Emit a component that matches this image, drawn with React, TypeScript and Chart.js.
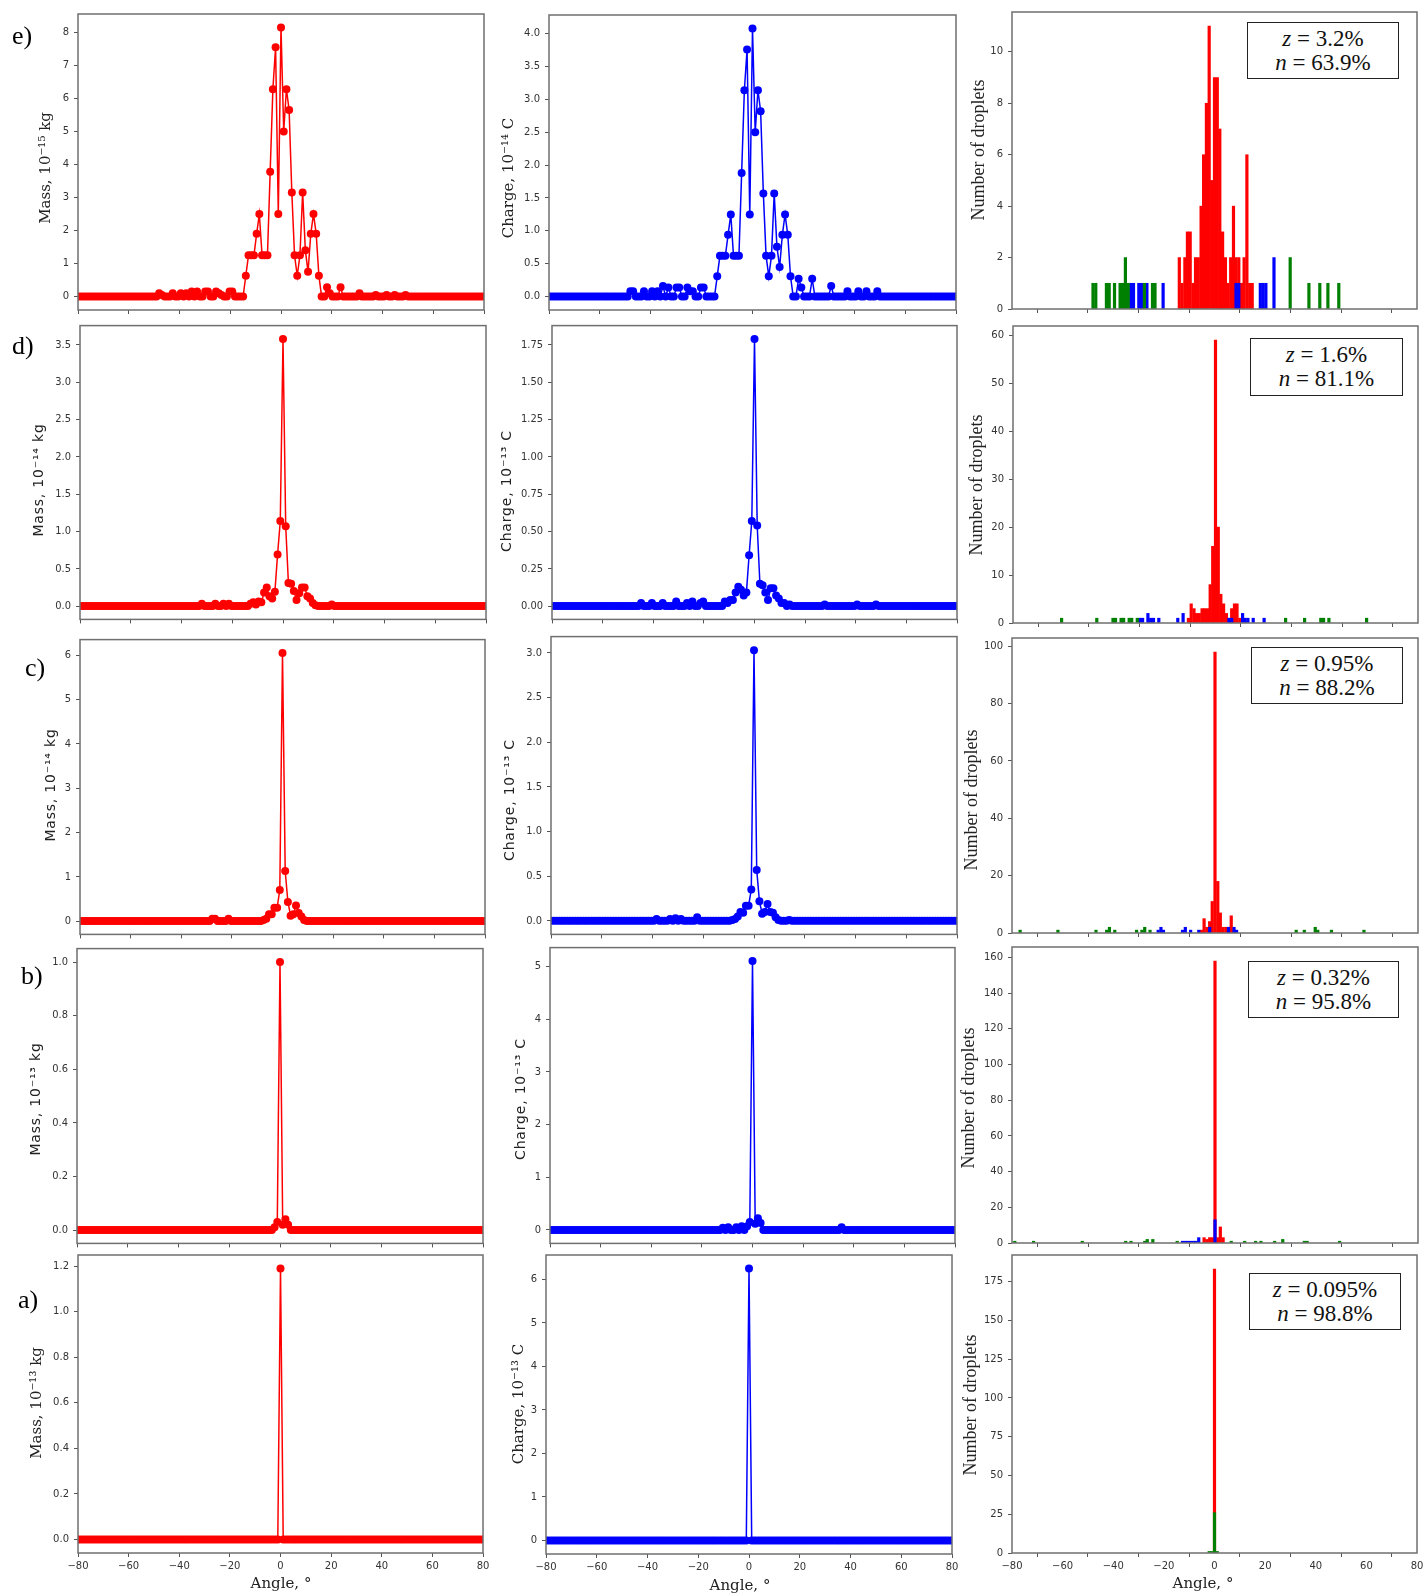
import React, { useEffect, useRef } from 'react';
import { Chart, registerables } from 'chart.js';
Chart.register(...registerables);

// ---------- x grid (bin centres, degrees) ----------
const N_POINTS = 151;
const angles: number[] = Array.from({ length: N_POINTS }, (_, k) => -80 + (k * 160) / 150);
const xTicks = [-80, -60, -40, -20, 0, 20, 40, 60, 80];

// ---------- line series (151 values each, index 75 = 0°) ----------
const massE = [
  0,0,0,0,0,0,0,0,0,0,
  0,0,0,0,0,0,0,0,0,0,
  0,0,0,0,0,0,0,0,0,0,
  0.1,0.05,0,0,0,0.1,0,0,0.1,0,
  0.1,0,0.15,0,0.15,0,0,0.15,0.15,0,
  0,0.15,0.1,0.05,0,0,0.15,0.15,0,0,
  0,0,0.63,1.25,1.25,1.25,1.9,2.5,1.25,1.25,
  1.25,3.78,6.28,7.55,2.5,8.15,5.0,6.28,5.65,3.15,
  1.25,0.63,1.25,3.15,1.4,0.75,1.9,2.5,1.9,0.63,
  0,0,0.28,0.1,0,0,0,0.28,0,0,
  0,0,0,0,0.1,0,0,0,0,0,
  0.05,0,0,0,0.05,0,0,0.05,0,0,
  0,0.05,0,0,0,0,0,0,0,0,
  0,0,0,0,0,0,0,0,0,0,
  0,0,0,0,0,0,0,0,0,0,
  0,
];
const chargeE = [
  0,0,0,0,0,0,0,0,0,0,
  0,0,0,0,0,0,0,0,0,0,
  0,0,0,0,0,0,0,0,0,0,
  0.08,0.08,0,0,0,0.08,0,0,0.08,0,
  0.08,0,0.16,0,0.14,0,0,0.14,0.14,0,
  0,0.14,0.08,0.08,0,0,0.14,0.14,0,0,
  0,0,0.31,0.62,0.62,0.62,0.94,1.25,0.62,0.62,
  0.62,1.88,3.14,3.76,1.25,4.08,2.5,3.14,2.82,1.57,
  0.62,0.31,0.62,1.57,0.76,0.45,0.94,1.25,0.94,0.31,
  0,0,0.27,0.14,0,0,0,0.27,0,0,
  0,0,0,0,0.16,0,0,0,0,0,
  0.08,0,0,0,0.08,0,0,0.08,0,0,
  0,0.08,0,0,0,0,0,0,0,0,
  0,0,0,0,0,0,0,0,0,0,
  0,0,0,0,0,0,0,0,0,0,
  0,
];
const massD = [
  0,0,0,0,0,0,0,0,0,0,
  0,0,0,0,0,0,0,0,0,0,
  0,0,0,0,0,0,0,0,0,0,
  0,0,0,0,0,0,0,0,0,0,
  0,0,0,0,0,0.03,0,0,0,0,
  0.03,0,0,0.03,0,0.03,0,0,0,0,
  0,0,0,0.03,0.05,0.02,0.06,0.05,0.18,0.25,
  0.13,0.1,0.19,0.69,1.14,3.58,1.07,0.31,0.3,0.2,
  0.08,0.17,0.25,0.25,0.13,0.1,0.04,0.01,0,0,
  0,0,0,0.02,0,0,0,0,0,0,
  0,0,0,0,0,0,0,0,0,0,
  0,0,0,0,0,0,0,0,0,0,
  0,0,0,0,0,0,0,0,0,0,
  0,0,0,0,0,0,0,0,0,0,
  0,0,0,0,0,0,0,0,0,0,
  0,
];
const chargeD = [
  0,0,0,0,0,0,0,0,0,0,
  0,0,0,0,0,0,0,0,0,0,
  0,0,0,0,0,0,0,0,0,0,
  0,0,0,0.02,0,0,0,0.02,0,0,
  0,0.02,0,0,0,0,0.03,0,0,0,
  0.02,0,0.03,0,0,0.02,0.03,0,0,0,
  0,0,0,0,0.03,0.02,0.04,0.04,0.09,0.13,
  0.11,0.07,0.09,0.34,0.57,1.79,0.54,0.15,0.14,0.09,
  0.04,0.12,0.12,0.07,0.05,0.02,0.02,0,0.01,0,
  0,0,0,0,0,0,0,0,0,0,
  0,0.01,0,0,0,0,0,0,0,0,
  0,0,0,0.01,0,0,0,0,0,0,
  0.01,0,0,0,0,0,0,0,0,0,
  0,0,0,0,0,0,0,0,0,0,
  0,0,0,0,0,0,0,0,0,0,
  0,
];
const massC = [
  0,0,0,0,0,0,0,0,0,0,
  0,0,0,0,0,0,0,0,0,0,
  0,0,0,0,0,0,0,0,0,0,
  0,0,0,0,0,0,0,0,0,0,
  0,0,0,0,0,0,0,0,0,0.05,
  0.05,0,0,0,0,0.05,0,0,0,0,
  0,0,0,0,0,0,0,0,0.02,0.05,
  0.15,0.15,0.3,0.3,0.7,6.05,1.13,0.43,0.12,0.15,
  0.35,0.18,0.1,0.02,0,0,0,0,0,0,
  0,0,0,0,0,0,0,0,0,0,
  0,0,0,0,0,0,0,0,0,0,
  0,0,0,0,0,0,0,0,0,0,
  0,0,0,0,0,0,0,0,0,0,
  0,0,0,0,0,0,0,0,0,0,
  0,0,0,0,0,0,0,0,0,0,
  0,
];
const chargeC = [
  0,0,0,0,0,0,0,0,0,0,
  0,0,0,0,0,0,0,0,0,0,
  0,0,0,0,0,0,0,0,0,0,
  0,0,0,0,0,0,0,0,0,0.02,
  0,0,0,0,0.02,0,0.03,0,0.02,0,
  0,0,0,0,0.04,0,0,0,0,0,
  0,0,0,0,0,0,0,0.01,0.02,0.05,
  0.1,0.09,0.17,0.17,0.35,3.03,0.57,0.22,0.08,0.1,
  0.19,0.1,0.09,0.04,0.01,0,0,0,0.01,0,
  0,0,0,0,0,0,0,0,0,0,
  0,0,0,0,0,0,0,0,0,0,
  0,0,0,0,0,0,0,0,0,0,
  0,0,0,0,0,0,0,0,0,0,
  0,0,0,0,0,0,0,0,0,0,
  0,0,0,0,0,0,0,0,0,0,
  0,
];
const massB = [
  0,0,0,0,0,0,0,0,0,0,
  0,0,0,0,0,0,0,0,0,0,
  0,0,0,0,0,0,0,0,0,0,
  0,0,0,0,0,0,0,0,0,0,
  0,0,0,0,0,0,0,0,0,0,
  0,0,0,0,0,0,0,0,0,0,
  0,0,0,0,0,0,0,0,0,0,
  0,0,0,0.01,0.03,1.0,0.02,0.04,0.02,0,
  0,0,0,0,0,0,0,0,0,0,
  0,0,0,0,0,0,0,0,0,0,
  0,0,0,0,0,0,0,0,0,0,
  0,0,0,0,0,0,0,0,0,0,
  0,0,0,0,0,0,0,0,0,0,
  0,0,0,0,0,0,0,0,0,0,
  0,0,0,0,0,0,0,0,0,0,
  0,
];
const chargeB = [
  0,0,0,0,0,0,0,0,0,0,
  0,0,0,0,0,0,0,0,0,0,
  0,0,0,0,0,0,0,0,0,0,
  0,0,0,0,0,0,0,0,0,0,
  0,0,0,0,0,0,0,0,0,0,
  0,0,0,0,0,0,0,0,0,0,
  0,0,0,0,0.04,0,0.05,0,0,0.05,
  0,0.07,0,0.07,0.15,5.1,0.12,0.22,0.13,0,
  0,0,0,0,0,0,0,0,0,0,
  0,0,0,0,0,0,0,0,0,0,
  0,0,0,0,0,0,0,0,0.05,0,
  0,0,0,0,0,0,0,0,0,0,
  0,0,0,0,0,0,0,0,0,0,
  0,0,0,0,0,0,0,0,0,0,
  0,0,0,0,0,0,0,0,0,0,
  0,
];
const massA = [
  0,0,0,0,0,0,0,0,0,0,
  0,0,0,0,0,0,0,0,0,0,
  0,0,0,0,0,0,0,0,0,0,
  0,0,0,0,0,0,0,0,0,0,
  0,0,0,0,0,0,0,0,0,0,
  0,0,0,0,0,0,0,0,0,0,
  0,0,0,0,0,0,0,0,0,0,
  0,0,0,0,0,1.19,0,0,0,0,
  0,0,0,0,0,0,0,0,0,0,
  0,0,0,0,0,0,0,0,0,0,
  0,0,0,0,0,0,0,0,0,0,
  0,0,0,0,0,0,0,0,0,0,
  0,0,0,0,0,0,0,0,0,0,
  0,0,0,0,0,0,0,0,0,0,
  0,0,0,0,0,0,0,0,0,0,
  0,
];
const chargeA = [
  0,0,0,0,0,0,0,0,0,0,
  0,0,0,0,0,0,0,0,0,0,
  0,0,0,0,0,0,0,0,0,0,
  0,0,0,0,0,0,0,0,0,0,
  0,0,0,0,0,0,0,0,0,0,
  0,0,0,0,0,0,0,0,0,0,
  0,0,0,0,0,0,0,0,0,0,
  0,0,0,0,0,6.25,0,0,0,0,
  0,0,0,0,0,0,0,0,0,0,
  0,0,0,0,0,0,0,0,0,0,
  0,0,0,0,0,0,0,0,0,0,
  0,0,0,0,0,0,0,0,0,0,
  0,0,0,0,0,0,0,0,0,0,
  0,0,0,0,0,0,0,0,0,0,
  0,0,0,0,0,0,0,0,0,0,
  0,
];

// ---------- histograms: [bin centre angle, number of droplets] ----------
type Pair = [number, number];
const histRedE: Pair[] = [[-13.9,2],[-12.8,1],[-11.7,2],[-10.7,3],[-9.6,3],[-8.5,1],[-7.5,2],[-6.4,2],[-5.3,4],[-4.3,6],[-3.2,8],[-2.1,11],[-1.1,5],[0,9],[1.1,9],[2.1,7],[3.2,3],[4.3,2],[5.3,1],[6.4,2],[7.5,4],[8.5,2],[9.6,2],[10.7,1],[11.7,2],[12.8,6],[13.9,1],[14.9,1]];
const histBlueE: Pair[] = [[-33.1,1],[-32.0,1],[-29.9,1],[-28.8,1],[-26.7,1],[-20.3,1],[8.5,1],[9.6,1],[18.1,1],[19.2,1],[20.3,1],[23.5,2]];
const histGreenE: Pair[] = [[-48.0,1],[-46.9,1],[-42.7,1],[-41.6,1],[-39.5,1],[-37.3,1],[-36.3,1],[-35.2,2],[-34.1,1],[-27.7,1],[-24.5,1],[-23.5,1],[29.9,2],[37.3,1],[41.6,1],[44.8,1],[49.1,1]];

const histRedD: Pair[] = [[-10.7,1],[-9.6,4],[-8.5,3],[-7.5,2],[-6.4,2],[-5.3,3],[-4.3,3],[-3.2,3],[-2.1,8],[-1.1,16],[0,59],[1.1,20],[2.1,6],[3.2,4],[4.3,2],[5.3,1],[6.4,3],[7.5,4],[8.5,4],[9.6,1]];
const histBlueD: Pair[] = [[-29.9,1],[-28.8,1],[-26.7,2],[-25.6,1],[-24.5,1],[-22.4,1],[-14.9,1],[-12.8,2],[5.3,1],[6.4,1],[10.7,2],[11.7,1],[12.8,1],[14.9,1],[19.2,1]];
const histGreenD: Pair[] = [[-60.8,1],[-46.9,1],[-40.5,1],[-39.5,1],[-37.3,1],[-36.3,1],[-34.1,1],[-33.1,1],[-30.9,1],[27.7,1],[35.2,1],[41.6,1],[42.7,1],[44.8,1],[59.7,1]];

const histRedC: Pair[] = [[-5.3,1],[-4.3,5],[-3.2,2],[-2.1,4],[-1.1,11],[0,98],[1.1,18],[2.1,7],[3.2,2],[4.3,2],[5.3,2],[6.4,6],[7.5,1]];
const histBlueC: Pair[] = [[-22.4,1],[-21.3,2],[-20.3,1],[-12.8,1],[-11.7,2],[-9.6,1],[-6.4,1],[-2.1,2],[5.3,2],[7.5,2],[8.5,1]];
const histGreenC: Pair[] = [[-76.8,1],[-61.9,1],[-46.9,1],[-42.7,1],[-41.6,2],[-39.5,1],[-30.9,1],[-28.8,1],[-27.7,2],[-25.6,1],[32.0,1],[35.2,1],[39.5,2],[40.5,1],[45.9,1],[58.7,1]];

const histRedB: Pair[] = [[-4.3,3],[-3.2,2],[-2.1,3],[-1.1,3],[0,158],[1.1,3],[2.1,9],[3.2,3]];
const histBlueB: Pair[] = [[-12.8,1],[-11.7,1],[-10.7,1],[-9.6,1],[-8.5,1],[-7.5,1],[-6.4,3],[0,13]];
const histGreenB: Pair[] = [[-78.9,1],[-71.5,1],[-52.3,1],[-35.2,1],[-33.1,1],[-27.7,1],[-26.7,2],[-24.5,2],[-14.9,1],[6.4,1],[11.7,1],[16.0,1],[18.1,1],[23.5,1],[26.7,2],[35.2,1],[36.3,1],[49.1,1]];

const histRedA: Pair[] = [[0,183]];
const histBlueA: Pair[] = [];
const histGreenA: Pair[] = [[-2.1,1],[-1.1,1],[0,26],[1.1,1]];

// ---------- annotation texts ----------
const zValues = ['3.2%', '1.6%', '0.95%', '0.32%', '0.095%'];
const nValues = ['63.9%', '81.1%', '88.2%', '95.8%', '98.8%'];
const rowLetters = ['e)', 'd)', 'c)', 'b)', 'a)'];

// ---------- styling ----------
const RED = 'rgb(255,0,0)';
const BLUE = 'rgb(0,0,255)';
const GREEN = 'rgb(0,128,0)';
const TICK_FONT = "'DejaVu Sans', sans-serif";
const COND_FONT = "'DejaVu Sans Condensed', 'DejaVu Sans', sans-serif";

const framePlugin = {
  id: 'frame',
  afterDatasetsDraw(chart: any) {
    const { ctx, chartArea } = chart;
    const { left, top, right, bottom } = chartArea;
    ctx.save();
    ctx.strokeStyle = '#6f6f6f';
    ctx.lineWidth = 1.5;
    ctx.strokeRect(left, top, right - left, bottom - top);
    ctx.restore();
  },
};

const fmtX = (v: number) => (v < 0 ? '\u2212' + Math.abs(v) : String(v));

interface Spec {
  box: [number, number, number, number];
  kind: 'line' | 'hist';
  values?: number[];
  color?: string;
  red?: Pair[];
  blue?: Pair[];
  green?: Pair[];
  step: number;
  dec: number;
  bottom: boolean;
  cond: boolean;
}

function Panel({ s }: { s: Spec }) {
  const ref = useRef<HTMLCanvasElement | null>(null);
  const [l, t, r, b] = s.box;
  const PL = 48, PT = 8, PR = 10;
  const XH = s.bottom ? 26 : 8;
  const w = r - l + PL + PR;
  const h = b - t + PT + XH;

  useEffect(() => {
    if (!ref.current) return;
    const tickFont = { family: s.cond ? COND_FONT : TICK_FONT, size: s.cond ? 11 : 10 };
    let datasets: any[];
    let yMin: number;
    let yMax: number;
    if (s.kind === 'line') {
      const vals = s.values as number[];
      const mx = Math.max(...vals);
      yMin = -0.05 * mx;
      yMax = 1.05 * mx;
      datasets = [
        {
          data: angles.map((a, i) => ({ x: a, y: vals[i] })),
          borderColor: s.color,
          backgroundColor: s.color,
          pointBackgroundColor: s.color,
          pointBorderColor: s.color,
          pointBorderWidth: 0,
          pointRadius: 4,
          borderWidth: 1.5,
          tension: 0,
          clip: 0,
        },
      ];
    } else {
      const all = [...(s.red || []), ...(s.blue || []), ...(s.green || [])].map((p) => p[1]);
      const mx = Math.max(...all);
      yMin = 0;
      yMax = 1.05 * mx;
      const mk = (pairs: Pair[], color: string, order: number) => ({
        data: pairs.map(([x, y]) => ({ x, y })),
        backgroundColor: color,
        borderWidth: 0,
        barPercentage: 1,
        categoryPercentage: 1,
        grouped: false,
        order,
        clip: 0,
      });
      datasets = [mk(s.red || [], RED, 3), mk(s.blue || [], BLUE, 2), mk(s.green || [], GREEN, 1)];
    }
    const chart = new Chart(ref.current, {
      type: s.kind === 'line' ? 'line' : 'bar',
      data: { datasets },
      options: {
        animation: false,
        responsive: false,
        devicePixelRatio: 1,
        events: [],
        layout: { padding: { left: 0, top: PT, right: PR, bottom: 0 } },
        plugins: { legend: { display: false }, tooltip: { enabled: false } },
        scales: {
          x: {
            type: 'linear',
            min: -80,
            max: 80,
            offset: false,
            afterBuildTicks: (sc: any) => {
              sc.ticks = xTicks.map((v) => ({ value: v }));
            },
            ticks: {
              display: s.bottom,
              autoSkip: false,
              maxRotation: 0,
              padding: 3,
              color: '#333',
              font: { family: TICK_FONT, size: 10 },
              callback: (v: any) => fmtX(Number(v)),
            },
            grid: { display: true, drawOnChartArea: false, drawTicks: true, tickLength: 4, color: '#555' },
            border: { display: false },
            afterFit: (sc: any) => {
              sc.height = XH;
            },
          },
          y: {
            type: 'linear',
            min: yMin,
            max: yMax,
            ticks: {
              stepSize: s.step,
              includeBounds: false,
              autoSkip: false,
              padding: 5,
              color: '#333',
              font: tickFont,
              callback: (v: any) => Number(v).toFixed(s.dec),
            },
            grid: { display: true, drawOnChartArea: false, drawTicks: true, tickLength: 4, color: '#555' },
            border: { display: false },
            afterFit: (sc: any) => {
              sc.width = PL;
            },
          },
        },
      } as any,
      plugins: [framePlugin],
    } as any);
    return () => chart.destroy();
  }, []);

  return (
    <canvas
      ref={ref}
      width={w}
      height={h}
      style={{ position: 'absolute', left: l - PL, top: t - PT, width: w, height: h }}
    />
  );
}

const specs: Spec[] = [
  // row e
  { box: [78, 11, 484, 313], kind: 'line', values: massE, color: RED, step: 1, dec: 0, bottom: false, cond: false },
  { box: [549, 12, 956, 313], kind: 'line', values: chargeE, color: BLUE, step: 0.5, dec: 1, bottom: false, cond: false },
  { box: [1012, 9, 1417, 312], kind: 'hist', red: histRedE, blue: histBlueE, green: histGreenE, step: 2, dec: 0, bottom: false, cond: false },
  // row d
  { box: [80, 322, 486, 623], kind: 'line', values: massD, color: RED, step: 0.5, dec: 1, bottom: false, cond: true },
  { box: [552, 322, 957, 623], kind: 'line', values: chargeD, color: BLUE, step: 0.25, dec: 2, bottom: false, cond: true },
  { box: [1013, 323, 1418, 626], kind: 'hist', red: histRedD, blue: histBlueD, green: histGreenD, step: 10, dec: 0, bottom: false, cond: false },
  // row c
  { box: [80, 636, 485, 938], kind: 'line', values: massC, color: RED, step: 1, dec: 0, bottom: false, cond: true },
  { box: [551, 633, 957, 938], kind: 'line', values: chargeC, color: BLUE, step: 0.5, dec: 1, bottom: false, cond: true },
  { box: [1012, 635, 1418, 936], kind: 'hist', red: histRedC, blue: histBlueC, green: histGreenC, step: 20, dec: 0, bottom: false, cond: false },
  // row b
  { box: [77, 945, 483, 1247], kind: 'line', values: massB, color: RED, step: 0.2, dec: 1, bottom: false, cond: true },
  { box: [550, 944, 955, 1247], kind: 'line', values: chargeB, color: BLUE, step: 1, dec: 0, bottom: false, cond: true },
  { box: [1012, 944, 1418, 1246], kind: 'hist', red: histRedB, blue: histBlueB, green: histGreenB, step: 20, dec: 0, bottom: false, cond: false },
  // row a
  { box: [78, 1252, 483, 1553], kind: 'line', values: massA, color: RED, step: 0.2, dec: 1, bottom: true, cond: false },
  { box: [546, 1252, 952, 1554], kind: 'line', values: chargeA, color: BLUE, step: 1, dec: 0, bottom: true, cond: false },
  { box: [1012, 1252, 1417, 1553], kind: 'hist', red: histRedA, blue: histBlueA, green: histGreenA, step: 25, dec: 0, bottom: true, cond: false },
];

const SERIF = "'DejaVu Serif', serif";
const WIDE = "'DejaVu Sans', sans-serif";
const TIMES = "'Liberation Serif', 'Times New Roman', serif";

const yTitles: { cx: number; cy: number; text: string; family: string; size: number; ls?: number }[] = [
  { cx: 45, cy: 168, text: 'Mass, 10\u207B\u00B9\u2075 kg', family: SERIF, size: 15 },
  { cx: 508, cy: 178, text: 'Charge, 10\u207B\u00B9\u2074 C', family: SERIF, size: 15 },
  { cx: 978, cy: 150, text: 'Number of droplets', family: TIMES, size: 18 },
  { cx: 38, cy: 480, text: 'Mass, 10\u207B\u00B9\u2074 kg', family: WIDE, size: 14, ls: 0.8 },
  { cx: 506, cy: 491, text: 'Charge, 10\u207B\u00B9\u00B3 C', family: WIDE, size: 14, ls: 0.8 },
  { cx: 976, cy: 485, text: 'Number of droplets', family: TIMES, size: 18 },
  { cx: 50, cy: 785, text: 'Mass, 10\u207B\u00B9\u2074 kg', family: WIDE, size: 14, ls: 0.8 },
  { cx: 509, cy: 800, text: 'Charge, 10\u207B\u00B9\u00B3 C', family: WIDE, size: 14, ls: 0.8 },
  { cx: 971, cy: 800, text: 'Number of droplets', family: TIMES, size: 18 },
  { cx: 35, cy: 1099, text: 'Mass, 10\u207B\u00B9\u00B3 kg', family: WIDE, size: 14, ls: 0.8 },
  { cx: 520, cy: 1099, text: 'Charge, 10\u207B\u00B9\u00B3 C', family: WIDE, size: 14, ls: 0.8 },
  { cx: 968, cy: 1098, text: 'Number of droplets', family: TIMES, size: 18 },
  { cx: 36, cy: 1403, text: 'Mass, 10\u207B\u00B9\u00B3 kg', family: SERIF, size: 15 },
  { cx: 518, cy: 1404, text: 'Charge, 10\u207B\u00B9\u00B3 C', family: SERIF, size: 15 },
  { cx: 970, cy: 1405, text: 'Number of droplets', family: TIMES, size: 18 },
];

const xTitles = [
  { cx: 281, cy: 1583 },
  { cx: 740, cy: 1585 },
  { cx: 1203, cy: 1583 },
];

const letterPos = [
  { x: 12, cy: 36 },
  { x: 12, cy: 346 },
  { x: 25, cy: 668 },
  { x: 21, cy: 976 },
  { x: 18, cy: 1300 },
];

const boxPos = [
  { l: 1247, t: 22, r: 1399, b: 79 },
  { l: 1250, t: 338, r: 1403, b: 396 },
  { l: 1251, t: 647, r: 1403, b: 704 },
  { l: 1248, t: 961, r: 1399, b: 1018 },
  { l: 1249, t: 1273, r: 1401, b: 1330 },
];

export default function App() {
  return (
    <div
      style={{
        position: 'absolute',
        left: 0,
        top: 0,
        width: 1428,
        height: 1596,
        background: '#fff',
        overflow: 'hidden',
      }}
    >
      {specs.map((s, i) => (
        <Panel key={i} s={s} />
      ))}
      {yTitles.map((y, i) => (
        <div
          key={'yt' + i}
          style={{
            position: 'absolute',
            left: y.cx,
            top: y.cy,
            transform: 'translate(-50%, -50%) rotate(-90deg)',
            whiteSpace: 'nowrap',
            fontFamily: y.family,
            fontSize: y.size,
            letterSpacing: y.ls ? y.ls + 'px' : undefined,
            lineHeight: 1,
            color: '#222',
          }}
        >
          {y.text}
        </div>
      ))}
      {xTitles.map((p, i) => (
        <div
          key={'xt' + i}
          style={{
            position: 'absolute',
            left: p.cx,
            top: p.cy,
            transform: 'translate(-50%, -50%)',
            whiteSpace: 'nowrap',
            fontFamily: SERIF,
            fontSize: 15,
            lineHeight: 1,
            color: '#222',
          }}
        >
          Angle, °
        </div>
      ))}
      {letterPos.map((p, i) => (
        <div
          key={'lt' + i}
          style={{
            position: 'absolute',
            left: p.x,
            top: p.cy,
            transform: 'translateY(-50%)',
            fontFamily: TIMES,
            fontSize: 26,
            lineHeight: 1,
            color: '#000',
          }}
        >
          {rowLetters[i]}
        </div>
      ))}
      {boxPos.map((p, i) => (
        <div
          key={'bx' + i}
          style={{
            position: 'absolute',
            left: p.l,
            top: p.t,
            width: p.r - p.l,
            height: p.b - p.t,
            boxSizing: 'border-box',
            border: '1.5px solid #222',
            background: '#fff',
            display: 'flex',
            flexDirection: 'column',
            justifyContent: 'center',
            alignItems: 'center',
            fontFamily: TIMES,
            fontSize: 23,
            lineHeight: '24px',
            color: '#111',
          }}
        >
          <div>
            <i>z</i> = {zValues[i]}
          </div>
          <div>
            <i>n</i> = {nValues[i]}
          </div>
        </div>
      ))}
    </div>
  );
}
